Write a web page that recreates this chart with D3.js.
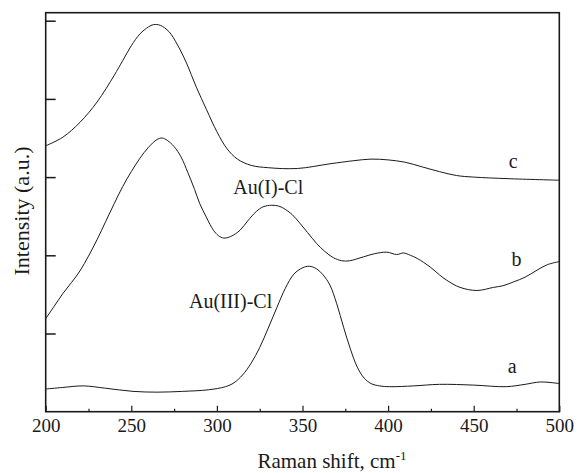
<!DOCTYPE html>
<html>
<head>
<meta charset="utf-8">
<script src="https://cdn.jsdelivr.net/npm/d3@7"></script>
<style>
  html, body { margin: 0; padding: 0; background: #fff; }
  svg text { font-family: "Liberation Serif", "Times New Roman", Times, "DejaVu Serif", serif; }
</style>
</head>
<body>
<svg id="chart" width="579" height="473"></svg>
<script>
// ---- data (Raman shift cm-1, intensity a.u.) ----
const shiftA = [200, 210, 222, 235, 251, 265, 280, 295, 305, 310, 315, 320, 325, 330, 335, 340, 345, 350, 354, 358, 362, 366, 370, 374, 378, 382, 386, 390, 395, 401, 415, 430, 450, 469, 480, 489, 500];
const intensityA = [0.29, 0.31, 0.33, 0.30, 0.26, 0.25, 0.26, 0.28, 0.32, 0.37, 0.47, 0.62, 0.82, 1.07, 1.33, 1.58, 1.76, 1.84, 1.86, 1.83, 1.75, 1.62, 1.38, 1.08, 0.80, 0.57, 0.43, 0.36, 0.33, 0.32, 0.33, 0.35, 0.34, 0.32, 0.35, 0.38, 0.36];

const shiftB = [200, 205, 210, 215, 220, 225, 230, 235, 240, 245, 250, 255, 260, 265, 268, 271, 275, 279, 283, 287, 290, 294, 298, 301, 304, 308, 313.5, 318, 323, 327, 332, 336, 339, 344, 348.5, 353, 358.3, 363, 368, 373, 377.5, 385.6, 392, 399.3, 405, 409, 413, 417, 424.6, 430, 434.3, 442, 451.9, 461.6, 467, 473.3, 480, 487, 493, 500];
const intensityB = [1.19, 1.35, 1.51, 1.65, 1.80, 1.99, 2.20, 2.43, 2.66, 2.88, 3.07, 3.24, 3.38, 3.48, 3.50, 3.47, 3.39, 3.26, 3.06, 2.84, 2.66, 2.48, 2.32, 2.25, 2.22, 2.24, 2.32, 2.44, 2.56, 2.62, 2.64, 2.63, 2.60, 2.52, 2.41, 2.29, 2.15, 2.05, 1.97, 1.93, 1.93, 1.98, 2.02, 2.04, 2.01, 2.03, 2.00, 1.96, 1.85, 1.75, 1.68, 1.59, 1.55, 1.59, 1.61, 1.66, 1.72, 1.81, 1.88, 1.92];

const shiftC = [200, 210, 220, 230, 240, 245, 250, 255, 260, 263, 267, 272, 277, 282, 288, 294, 300, 306, 312, 320, 330, 347, 366, 380, 390, 400, 410, 420, 430, 440, 450, 470, 500];
const intensityC = [3.40, 3.51, 3.70, 3.96, 4.30, 4.49, 4.68, 4.83, 4.92, 4.95, 4.94, 4.86, 4.69, 4.47, 4.15, 3.86, 3.58, 3.36, 3.23, 3.15, 3.12, 3.11, 3.17, 3.21, 3.23, 3.22, 3.19, 3.13, 3.07, 3.02, 3.00, 2.98, 2.96];

const xMajorTicks = [200, 250, 300, 350, 400, 450, 500];
const xMinorTicks = [225, 275, 325, 375, 425, 475];
const yTicks = [1, 2, 3, 4, 5];

const curveLabels = [
  { text: "c", x: 473, y: 3.11 },
  { text: "b", x: 475, y: 1.86 },
  { text: "a", x: 472.5, y: 0.49 },
  { text: "Au(I)-Cl", x: 330, y: 2.79 },
  { text: "Au(III)-Cl", x: 308, y: 1.32 }
];

// ---- layout ----
const svg = d3.select("#chart");
const plotLeft = 45.7, plotRight = 559.3, plotTop = 12.7, plotBottom = 411.7;
const serif = "'Liberation Serif', 'Times New Roman', Times, 'DejaVu Serif', serif";

const x = d3.scaleLinear().domain([200, 500]).range([plotLeft, plotRight]);
const y = d3.scaleLinear().domain([0, (plotBottom - plotTop) / 78.2]).range([plotBottom, plotTop]);

const ink = "#1a1a1a";

// bottom axis: major ticks with labels, minor ticks without (both pointing inward)
const gx = svg.append("g").attr("transform", `translate(0,${plotBottom})`)
  .call(d3.axisBottom(x).tickValues(xMajorTicks).tickSize(-6).tickPadding(7).tickFormat(d3.format("d")));
gx.attr("font-family", null);
gx.select(".domain").remove();
gx.selectAll("line").attr("stroke", ink).attr("stroke-width", 1.2);
gx.selectAll("text").attr("fill", ink).attr("font-size", 19).style("font-family", serif);

const gxm = svg.append("g").attr("transform", `translate(0,${plotBottom})`)
  .call(d3.axisBottom(x).tickValues(xMinorTicks).tickSize(-3).tickFormat(""));
gxm.select(".domain").remove();
gxm.selectAll("line").attr("stroke", ink).attr("stroke-width", 1.2);

// left axis: inward ticks, no labels
const gy = svg.append("g").attr("transform", `translate(${plotLeft},0)`)
  .call(d3.axisLeft(y).tickValues(yTicks).tickSize(-10).tickFormat(""));
gy.select(".domain").remove();
gy.selectAll("line").attr("stroke", ink).attr("stroke-width", 1.5);

// frame
svg.append("rect")
  .attr("x", plotLeft).attr("y", plotTop)
  .attr("width", plotRight - plotLeft).attr("height", plotBottom - plotTop)
  .attr("fill", "none")
  .attr("stroke", ink)
  .attr("stroke-width", 1.6);

// spectra
const line = d3.line()
  .x(d => x(d[0]))
  .y(d => y(d[1]))
  .curve(d3.curveCatmullRom.alpha(0.5));

[[shiftA, intensityA], [shiftB, intensityB], [shiftC, intensityC]].forEach(([xs, ys]) => {
  svg.append("path")
    .datum(d3.zip(xs, ys))
    .attr("d", line)
    .attr("fill", "none")
    .attr("stroke", ink)
    .attr("stroke-width", 1);
});

// curve labels
svg.selectAll(".curve-label")
  .data(curveLabels)
  .enter().append("text")
  .attr("class", "curve-label")
  .attr("x", d => x(d.x))
  .attr("y", d => y(d.y))
  .attr("text-anchor", "middle")
  .attr("font-size", 20)
  .style("font-family", serif)
  .attr("fill", ink)
  .text(d => d.text);

// axis titles
const xTitle = svg.append("text")
  .attr("x", 332).attr("y", 468)
  .attr("text-anchor", "middle")
  .attr("font-size", 21)
  .style("font-family", serif)
  .attr("fill", ink);
xTitle.append("tspan").text("Raman shift, cm");
xTitle.append("tspan").attr("dy", -8).attr("font-size", 13).text("-1");

svg.append("text")
  .attr("transform", "translate(29,211) rotate(-90)")
  .attr("text-anchor", "middle")
  .attr("font-size", 22)
  .style("font-family", serif)
  .attr("fill", ink)
  .text("Intensity (a.u.)");
</script>
</body>
</html>
